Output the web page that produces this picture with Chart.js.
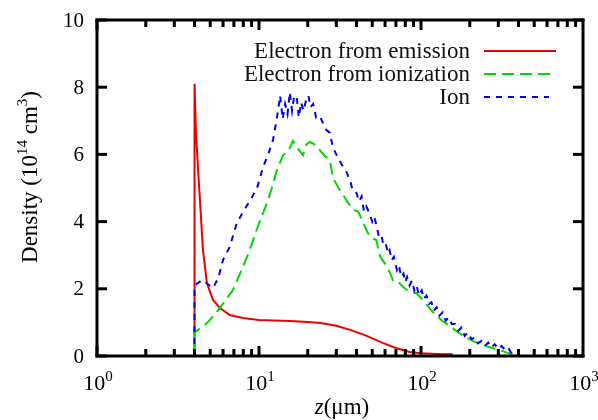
<!DOCTYPE html>
<html>
<head>
<meta charset="utf-8">
<script src="https://cdn.jsdelivr.net/npm/chart.js@4"></script>
<style>
  body { margin: 0; background: #fff; }
</style>
</head>
<body>
<canvas id="myChart" width="598" height="420"></canvas>
<script>
const seriesNames = ['Electron from emission', 'Electron from ionization', 'Ion'];

// electron from emission (red)
const emissionZ = [3.99, 4.0, 4.08, 4.2, 4.32, 4.51, 4.77, 5.2, 5.74, 6.6, 7.96, 10, 15.5, 20, 24, 30, 37, 45, 58, 70, 85, 100, 125, 157];
const emissionN = [0, 8.1, 6.7, 5.6, 4.64, 3.15, 2.17, 1.67, 1.43, 1.22, 1.13, 1.07, 1.04, 1.01, 0.98, 0.9, 0.77, 0.62, 0.39, 0.24, 0.12, 0.08, 0.06, 0.05];

// electron from ionization (green)
const ionizZ = [3.99, 4.0, 4.4, 4.77, 5.2, 5.74, 6.3, 6.9, 7.4, 7.96, 8.6, 9.2, 10, 11.2, 12, 12.9, 14.1, 15.2, 16.2, 17.5, 18.7, 19.6, 20.6, 22, 23.7, 25.5, 27.4, 28.6, 31, 33, 35, 38, 41, 44, 47, 50, 53, 56, 60, 64, 67, 71, 76, 82, 88, 94, 105, 119, 135, 150, 170, 191, 215, 240, 270, 305, 340, 385];
const ionizN = [0, 0.7, 0.85, 0.98, 1.18, 1.43, 1.7, 1.96, 2.3, 2.65, 3.05, 3.45, 3.95, 4.55, 5.0, 5.54, 5.98, 6.1, 6.4, 6.15, 5.98, 6.3, 6.37, 6.3, 6.13, 5.95, 5.83, 5.3, 5.0, 4.8, 4.6, 4.35, 4.3, 3.96, 3.66, 3.5, 3.45, 2.95, 2.75, 2.5, 2.26, 2.25, 2.1, 1.96, 1.9, 1.87, 1.6, 1.3, 1.05, 0.9, 0.7, 0.55, 0.42, 0.33, 0.25, 0.18, 0.1, 0.02];

// ion (blue)
const ionZ = [3.99, 4.0, 4.45, 4.8, 5.2, 5.6, 6.0, 6.6, 7.3, 8.0, 9.0, 9.8, 10.6, 11.4, 12.2, 12.7, 13.1, 13.5, 14.0, 14.5, 15.0, 15.5, 16.0, 16.5, 17.1, 17.6, 18.2, 18.8, 19.5, 20.2, 20.8, 21.6, 22.5, 23.7, 25, 26, 27.4, 28.6, 30, 31.5, 33, 34.5, 36.6, 38, 40, 41.5, 43, 44.5, 46, 48.5, 50, 51.5, 53, 55, 57, 58.5, 60.5, 62.5, 64, 66, 68, 71, 73, 75.5, 78, 80, 82, 85, 88, 91, 94, 97, 101, 104, 108, 112, 116, 120, 125, 130, 136, 142, 148, 155, 162, 170, 178, 186, 195, 205, 215, 225, 236, 248, 260, 272, 285, 300, 315, 330, 345, 360, 372, 385];
const ionN = [0, 2.1, 2.26, 2.15, 2.02, 2.32, 2.86, 3.25, 3.96, 4.3, 4.7, 5.05, 5.63, 6.0, 6.43, 6.9, 7.3, 7.75, 7.05, 7.5, 7.2, 7.85, 7.3, 7.75, 7.7, 7.1, 7.55, 7.3, 7.6, 7.75, 7.4, 7.5, 7.1, 7.15, 6.9, 6.73, 6.64, 6.2, 6.0, 5.8, 5.63, 5.5, 5.2, 4.9, 4.85, 4.6, 4.75, 4.3, 4.45, 4.2, 4.0, 4.15, 3.9, 3.55, 3.6, 3.3, 3.35, 3.05, 3.15, 2.85, 2.95, 2.56, 2.7, 2.35, 2.45, 2.2, 2.35, 2.1, 2.25, 1.95, 2.1, 1.8, 1.95, 1.7, 1.8, 1.55, 1.6, 1.35, 1.45, 1.2, 1.3, 1.05, 1.15, 0.95, 0.95, 0.75, 0.85, 0.6, 0.7, 0.5, 0.55, 0.38, 0.45, 0.3, 0.4, 0.25, 0.35, 0.2, 0.3, 0.18, 0.25, 0.1, 0.15, 0.02];

const xTicks = [1, 10, 100, 1000];
const xTickExp = ['0', '1', '2', '3'];
const yTicks = [0, 2, 4, 6, 8, 10];

const colors = ['rgb(235,0,0)', 'rgb(0,215,0)', 'rgb(0,0,235)'];
const dashes = [[], [12, 6], [6, 6]];
const serif = "'Liberation Serif', 'Times New Roman', serif";

function pts(xs, ys) {
  return xs.map((v, i) => ({ x: v, y: ys[i] }));
}

// text with superscript pieces, starting at x0 on baseline 0
function drawPieces(ctx, pieces, x0, size, supSize, rise) {
  let x = x0;
  pieces.forEach(p => {
    ctx.font = (p.sup ? supSize : size) + 'px ' + serif;
    ctx.fillText(p.t, x, p.sup ? -rise : 0);
    x += ctx.measureText(p.t).width;
  });
}
function piecesWidth(ctx, pieces, size, supSize) {
  let w = 0;
  pieces.forEach(p => {
    ctx.font = (p.sup ? supSize : size) + 'px ' + serif;
    w += ctx.measureText(p.t).width;
  });
  return w;
}

const frame = {
  id: 'frame',
  afterDraw(chart) {
    const ctx = chart.ctx;
    const x = chart.scales.x, y = chart.scales.y;
    const a = chart.chartArea;
    const L = a.left, R = a.right, T = a.top, B = a.bottom;
    ctx.save();
    ctx.fillStyle = '#000';

    // frame, 3px
    ctx.fillRect(L - 1.5, T - 1.5, R - L + 3, 3);
    ctx.fillRect(L - 1.5, B - 1.5, R - L + 3, 3);
    ctx.fillRect(L - 1.5, T - 1.5, 3, B - T + 3);
    ctx.fillRect(R - 1.5, T - 1.5, 3, B - T + 3);

    // ticks, inward on all sides
    yTicks.forEach(v => {
      const py = y.getPixelForValue(v);
      ctx.fillRect(L, py - 1.5, 10, 3);
      ctx.fillRect(R - 10, py - 1.5, 10, 3);
    });
    for (let d = 1; d < 1000; d *= 10) {
      for (let k = 1; k <= 9; k++) {
        const px = x.getPixelForValue(d * k);
        const len = k == 1 ? 10 : 7;
        ctx.fillRect(px - 1.5, B - len, 3, len);
        ctx.fillRect(px - 1.5, T, 3, len);
      }
    }

    // y tick labels
    ctx.font = '21px ' + serif;
    ctx.textAlign = 'right';
    ctx.textBaseline = 'middle';
    yTicks.forEach(v => {
      ctx.fillText(String(v), L - 13, y.getPixelForValue(v) + 1);
    });

    // x tick labels 10^n
    ctx.textAlign = 'left';
    ctx.textBaseline = 'alphabetic';
    xTicks.forEach((v, i) => {
      const pieces = [{ t: '10' }, { t: xTickExp[i], sup: true }];
      const w = piecesWidth(ctx, pieces, 22, 15);
      ctx.save();
      ctx.translate(x.getPixelForValue(v) - w / 2 + 1, 390);
      drawPieces(ctx, pieces, 0, 22, 15, 9);
      ctx.restore();
    });

    // x title
    ctx.font = 'italic 23px ' + serif;
    const zw = ctx.measureText('z').width;
    ctx.font = '23px ' + serif;
    const rw = ctx.measureText('(\u03bcm)').width;
    const sx = (L + R) / 2 - (zw + rw) / 2 + 2;
    ctx.font = 'italic 23px ' + serif;
    ctx.fillText('z', sx, 414);
    ctx.font = '23px ' + serif;
    ctx.fillText('(\u03bcm)', sx + zw, 414);

    // y title, rotated
    const yt = [{ t: 'Density (10' }, { t: '14', sup: true }, { t: ' cm' }, { t: '3', sup: true }, { t: ')' }];
    const yw = piecesWidth(ctx, yt, 23, 15);
    ctx.save();
    ctx.translate(37, 177);
    ctx.rotate(-Math.PI / 2);
    drawPieces(ctx, yt, -yw / 2, 23, 15, 10);
    ctx.restore();

    // legend
    ctx.font = '23px ' + serif;
    ctx.textAlign = 'right';
    ctx.lineWidth = 2;
    seriesNames.forEach((name, i) => {
      const ly = 51 + i * 23;
      ctx.fillStyle = '#111';
      ctx.fillText(name, 470, ly + 7);
      ctx.strokeStyle = colors[i];
      ctx.setLineDash(dashes[i]);
      ctx.beginPath();
      ctx.moveTo(484, ly);
      ctx.lineTo(i == 2 ? 549 : 556, ly);
      ctx.stroke();
    });
    ctx.restore();
  }
};

const zs = [emissionZ, ionizZ, ionZ];
const ns = [emissionN, ionizN, ionN];

new Chart(document.getElementById('myChart'), {
  type: 'line',
  data: {
    datasets: seriesNames.map((name, i) => ({
      label: name,
      data: pts(zs[i], ns[i]),
      borderColor: colors[i],
      borderDash: dashes[i],
      borderWidth: 2,
      pointRadius: 0,
      fill: false,
      tension: 0,
      order: 3 - i
    }))
  },
  options: {
    responsive: false,
    animation: false,
    devicePixelRatio: 1,
    layout: { padding: { left: 97, top: 20, right: 15, bottom: 64 } },
    plugins: { legend: { display: false }, tooltip: { enabled: false } },
    scales: {
      x: { type: 'logarithmic', min: 1, max: 1000, display: false },
      y: { type: 'linear', min: 0, max: 10, display: false }
    }
  },
  plugins: [frame]
});
</script>
</body>
</html>
